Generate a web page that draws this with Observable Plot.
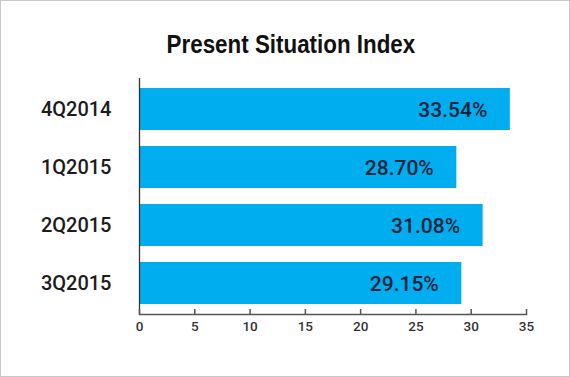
<!DOCTYPE html>
<html>
<head>
<meta charset="utf-8">
<script src="https://cdn.jsdelivr.net/npm/d3@7"></script>
<script src="https://cdn.jsdelivr.net/npm/@observablehq/plot@0.6"></script>
<style>
  html, body { margin: 0; padding: 0; background: #fff; }
  #wrap { position: relative; width: 570px; height: 377px; overflow: hidden; background: #fff; }
  #border { position: absolute; left: 0; top: 0; width: 570px; height: 377px; box-sizing: border-box; border: 1px solid #c8c8c8; pointer-events: none; }
  #title { height: 70px; width: 570px; text-align: center; box-sizing: border-box; padding-top: 32px; }
  #title span { display: inline-block; font-family: "Liberation Sans", Arial, sans-serif; font-weight: bold; font-size: 25px; line-height: 25px; color: #111; transform: scaleX(0.895); transform-origin: center; position: relative; left: 6px; }
  svg { display: block; }
</style>
</head>
<body>
<div id="wrap">
  <div id="title"><span>Present Situation Index</span></div>
  <div id="chart"></div>
  <div id="border"></div>
</div>
<script>
const categories = ["4Q2014", "1Q2015", "2Q2015", "3Q2015"];
const values = [33.54, 28.70, 31.08, 29.15];
const labels = ["33.54%", "28.70%", "31.08%", "29.15%"];
const xTicks = [0, 5, 10, 15, 20, 25, 30, 35];

const data = categories.map((c, i) => ({cat: c, value: values[i], label: labels[i]}));

const chart = Plot.plot({
  width: 570,
  height: 307,
  marginTop: 8,
  marginBottom: 63,
  marginLeft: 139,
  marginRight: 44,
  style: {fontFamily: "Roboto, 'Liberation Sans', Arial, sans-serif", background: "transparent"},
  x: {domain: [0, 35], ticks: xTicks},
  y: {domain: categories, paddingInner: 0.271, paddingOuter: 0.136},
  marks: [
    Plot.barX(data, {x: "value", y: "cat", fill: "#00adef"}),
    Plot.text(data, {x: "value", y: "cat", text: "label", textAnchor: "end", dx: -23, dy: 1, fontSize: 21, fontWeight: 500, fill: "#14233a"}),
    Plot.ruleX([0], {stroke: "#333", strokeWidth: 1.3}),
    Plot.frame({anchor: "bottom", stroke: "#555", strokeWidth: 1.5}),
    Plot.axisX({ticks: xTicks, tickSize: -5, tickPadding: 12, tickFormat: d => String(d), fontSize: 13.5, fontWeight: 500, fill: "#333", stroke: "#555", strokeWidth: 1.5, label: null}),
    Plot.axisY({tickSize: 0, tickPadding: 28, fontSize: 20, fontWeight: 500, fill: "#1c1c1c", label: null})
  ]
});
document.getElementById("chart").appendChild(chart);
</script>
</body>
</html>
